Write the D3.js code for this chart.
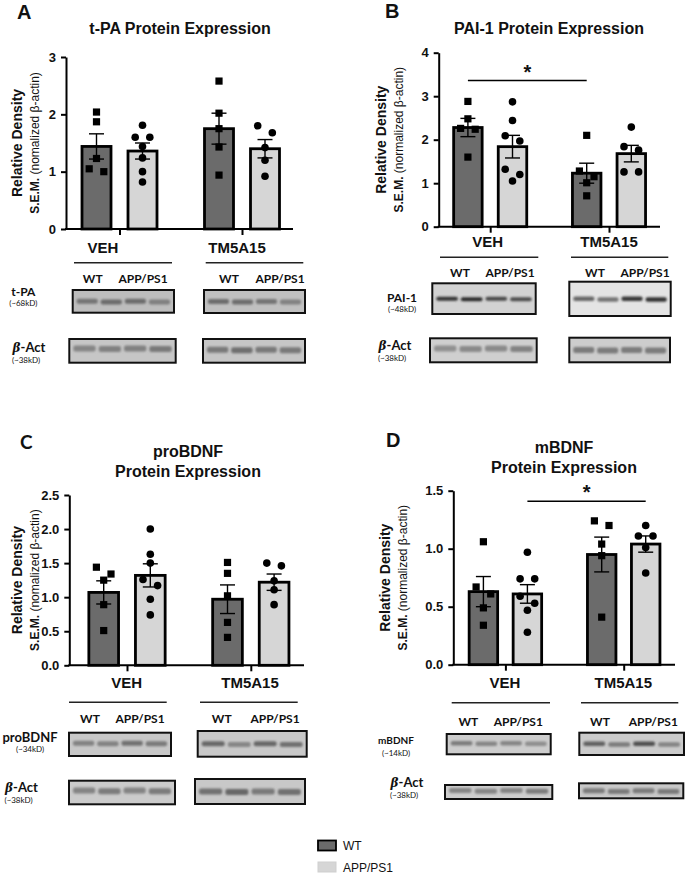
<!DOCTYPE html>
<html><head><meta charset="utf-8">
<script src="https://cdn.jsdelivr.net/npm/d3@7"></script>
<style>body{margin:0;background:#fff}svg{display:block}</style>
</head><body>
<script>
// ---------- DATA ----------
const groups = ["VEH", "TM5A15"];
const genotypes = ["WT", "APP/PS1"];
const legendLabels = ["WT", "APP/PS1"];

// A: t-PA
const tpaMeans = [1.44, 1.36, 1.75, 1.40];
const tpaSem = [0.22, 0.14, 0.27, 0.16];
const tpaVehWT = [2.04, 1.87, 1.23, 1.05, 1.00];
const tpaVehAPP = [1.81, 1.60, 1.60, 1.44, 1.24, 1.00, 0.82];
const tpaTmWT = [2.58, 2.02, 1.75, 1.43, 0.94];
const tpaTmAPP = [1.80, 1.68, 1.42, 1.20, 0.92];
const tpaTicks = [0, 1, 2, 3];

// B: PAI-1
const paiMeans = [2.28, 1.84, 1.23, 1.68];
const paiSem = [0.21, 0.26, 0.23, 0.19];
const paiVehWT = [2.88, 2.48, 2.26, 2.24, 1.60];
const paiVehAPP = [2.87, 2.44, 2.09, 1.97, 1.32, 1.20, 1.05];
const paiTmWT = [2.10, 1.28, 1.15, 1.01, 0.71];
const paiTmAPP = [2.29, 1.84, 1.76, 1.26, 1.26];
const paiTicks = [0, 1, 2, 3, 4];
const paiSigLevel = 3.36;

// C: proBDNF
const proMeans = [1.07, 1.32, 0.97, 1.22];
const proSem = [0.17, 0.17, 0.21, 0.12];
const proVehWT = [1.44, 1.34, 1.25, 0.89, 0.51];
const proVehAPP = [2.00, 1.63, 1.50, 1.26, 1.17, 0.97, 0.74];
const proTmWT = [1.51, 1.35, 1.02, 0.63, 0.41];
const proTmAPP = [1.50, 1.46, 1.24, 1.11, 0.89];
const proTicks = [0, 0.5, 1.0, 1.5, 2.0, 2.5];

// D: mBDNF
const mMeans = [0.63, 0.61, 0.95, 1.04];
const mSem = [0.13, 0.08, 0.15, 0.07];
const mVehWT = [1.06, 0.67, 0.61, 0.49, 0.34];
const mVehAPP = [0.97, 0.74, 0.74, 0.59, 0.53, 0.47, 0.28];
const mTmWT = [1.24, 1.20, 1.04, 0.94, 0.41];
const mTmAPP = [1.20, 1.11, 1.11, 1.01, 0.79];
const mTicks = [0, 0.5, 1.0, 1.5];
const mSigLevel = 1.41;

// Western blot band intensities (4 lanes each)
const tpaVehBand = [0.45, 0.5, 0.5, 0.38];
const tpaTmBand = [0.5, 0.5, 0.45, 0.38];
const actAVeh = [0.38, 0.4, 0.4, 0.45];
const actATm = [0.45, 0.5, 0.45, 0.45];
const paiVehBand = [0.85, 0.9, 0.75, 0.72];
const paiTmBand = [0.62, 0.55, 0.85, 0.88];
const actBVeh = [0.35, 0.38, 0.38, 0.42];
const actBTm = [0.45, 0.45, 0.45, 0.45];
const proVehBand = [0.4, 0.4, 0.5, 0.45];
const proTmBand = [0.55, 0.38, 0.55, 0.5];
const actCVeh = [0.4, 0.45, 0.4, 0.45];
const actCTm = [0.5, 0.55, 0.45, 0.5];
const mVehBand = [0.45, 0.4, 0.4, 0.35];
const mTmBand = [0.6, 0.45, 0.7, 0.4];
const actDVeh = [0.4, 0.4, 0.4, 0.45];
const actDTm = [0.45, 0.45, 0.45, 0.45];

// ---------- DRAWING ----------
const W = 685, H = 874;
const ARIAL = "'Liberation Sans', Arial, sans-serif";
const CAL = "Lato, 'Open Sans', sans-serif";
const WT_FILL = "#6b6b6b", APP_FILL = "#d6d6d6";

const svg = d3.select("body").append("svg").attr("width", W).attr("height", H);
const defs = svg.append("defs");
defs.append("filter").attr("id", "blur").attr("x", "-20%").attr("y", "-100%").attr("width", "140%").attr("height", "300%")
  .append("feGaussianBlur").attr("stdDeviation", 1.1);

function txt(g, x, y, s, size, weight, anchor, family, rot) {
  const t = g.append("text").attr("x", x).attr("y", y).text(s)
    .attr("font-size", size).attr("font-weight", weight || "bold")
    .attr("text-anchor", anchor || "middle").attr("font-family", family || ARIAL).attr("fill", "#111");
  if (rot) t.attr("transform", `rotate(-90,${x},${y})`);
  return t;
}

function jitter(values, y, step) {
  // points whose pixel positions are closer than 8 px share a row and spread sideways
  const sorted = values.slice().sort((a, b) => b - a);
  const rows = [];
  sorted.forEach(v => {
    const last = rows[rows.length - 1];
    if (last && Math.abs(y(last[0]) - y(v)) < 8) last.push(v); else rows.push([v]);
  });
  const out = [];
  rows.forEach(r => r.forEach((v, k) => out.push({ v, dx: r.length > 1 ? (k / (r.length - 1) * 2 - 1) * step : 0 })));
  return out;
}

function panel(c) {
  const g = svg.append("g");
  const y = d3.scaleLinear().domain([0, c.ticks[c.ticks.length - 1]]).range([c.zeroY, c.topY]);
  const xg = d3.scalePoint().domain(groups).range(c.centers);
  const xs = d3.scalePoint().domain(genotypes).range([-c.off, c.off]);
  const cells = [];
  groups.forEach((gr, gi) => genotypes.forEach((ge, ki) => {
    const idx = gi * 2 + ki;
    cells.push({ gr, ge, mean: c.means[idx], sem: c.sem[idx], pts: c.pts[idx], cx: xg(gr) + xs(ge) });
  }));
  // bars
  g.selectAll(".bar").data(cells).join("rect")
    .attr("x", d => d.cx - c.bw / 2).attr("y", d => y(d.mean))
    .attr("width", c.bw).attr("height", d => y(0) - y(d.mean))
    .attr("fill", d => d.ge === "WT" ? WT_FILL : APP_FILL)
    .attr("stroke", "#000").attr("stroke-width", 2.8);
  // error bars
  cells.forEach(d => {
    const e = g.append("g").attr("stroke", "#000").attr("stroke-width", 1.4);
    e.append("line").attr("x1", d.cx).attr("x2", d.cx).attr("y1", y(d.mean + d.sem)).attr("y2", y(d.mean - d.sem));
    [d.mean + d.sem, d.mean - d.sem].forEach(v => e.append("line")
      .attr("x1", d.cx - 7.5).attr("x2", d.cx + 7.5).attr("y1", y(v)).attr("y2", y(v)));
  });
  // points
  cells.forEach(d => {
    const pts = jitter(d.pts, y, 7.3);
    if (d.ge === "WT") {
      g.selectAll(null).data(pts).join("rect")
        .attr("x", p => d.cx + p.dx - 3.6).attr("y", p => y(p.v) - 3.6)
        .attr("width", 7.2).attr("height", 7.2).attr("fill", "#000");
    } else {
      g.selectAll(null).data(pts).join("circle")
        .attr("cx", p => d.cx + p.dx).attr("cy", p => y(p.v)).attr("r", 3.8).attr("fill", "#000");
    }
  });
  // y axis
  const ya = g.append("g").attr("transform", `translate(${c.axisX},0)`)
    .call(d3.axisLeft(y).tickValues(c.ticks).tickSize(5).tickSizeOuter(0).tickFormat(c.fmt));
  ya.select(".domain").attr("stroke-width", 2);
  ya.selectAll(".tick line").attr("stroke-width", 2);
  ya.selectAll("text").attr("font-size", 13).attr("font-weight", "bold").attr("font-family", ARIAL).attr("fill", "#111").attr("dx", "-2");
  // x axis
  g.append("line").attr("x1", c.axisX - 1).attr("x2", c.axisEnd).attr("y1", y(0)).attr("y2", y(0))
    .attr("stroke", "#000").attr("stroke-width", 2);
  const xa = g.append("g").attr("transform", `translate(0,${y(0)})`)
    .call(d3.axisBottom(xg).tickSize(6).tickFormat(""));
  xa.select(".domain").remove();
  xa.selectAll(".tick line").attr("stroke-width", 2);
  // significance
  if (c.sig) {
    const a = cells.find(d => d.gr === c.sig.from[0] && d.ge === c.sig.from[1]);
    const b = cells.find(d => d.gr === c.sig.to[0] && d.ge === c.sig.to[1]);
    g.append("line").attr("x1", a.cx).attr("x2", b.cx).attr("y1", y(c.sig.level)).attr("y2", y(c.sig.level))
      .attr("stroke", "#000").attr("stroke-width", 1.5);
    txt(g, (a.cx + b.cx) / 2, y(c.sig.level) - 2, "*", 20, "bold");
  }
  // titles
  c.title.forEach((s, i) => txt(g, c.titleX, c.titleY[i], s, 16, "bold"));
  txt(g, c.letter[1], c.letter[2], c.letter[0], c.letter[3] || 20, "bold", "start", c.letter[4] || ARIAL);
  // y labels
  const ym = (c.zeroY + c.topY) / 2 + c.ylabDy;
  txt(g, c.ylabX, ym, "Relative Density", 14, "bold", "middle", ARIAL, true);
  const t2 = g.append("text").attr("x", c.ylabX + 17).attr("y", ym).attr("text-anchor", "middle")
    .attr("font-family", ARIAL).attr("font-size", 12).attr("fill", "#111")
    .attr("transform", `rotate(-90,${c.ylabX + 17},${ym})`);
  t2.append("tspan").attr("font-weight", "bold").text("S.E.M. ");
  t2.append("tspan").text(c.norm);
  return g;
}

function blot(g, box, bands, bg, yFrac, bandH) {
  const [x0, y0, x1, y1] = box;
  const bx = g.append("g");
  bx.append("rect").attr("x", x0).attr("y", y0).attr("width", x1 - x0).attr("height", y1 - y0).attr("fill", bg);
  const lane = d3.scaleBand().domain(d3.range(bands.length)).range([x0 + 2, x1 - 2]).paddingInner(0.12).paddingOuter(0.08);
  const col = d3.interpolateRgb(bg, "#1a1a1a");
  bx.selectAll(null).data(bands).join("rect")
    .attr("x", (d, i) => lane(i)).attr("width", lane.bandwidth())
    .attr("y", (d, i) => y0 + (y1 - y0) * yFrac - bandH / 2 + (i % 2 ? 0.6 : 0))
    .attr("height", bandH).attr("rx", 2)
    .attr("fill", d => col(d)).attr("filter", "url(#blur)");
  bx.append("rect").attr("x", x0).attr("y", y0).attr("width", x1 - x0).attr("height", y1 - y0)
    .attr("fill", "none").attr("stroke", "#111").attr("stroke-width", 2);
}

function blotHeader(g, h) {
  txt(g, h.veh[0], h.veh[1], groups[0], 15, "bold");
  txt(g, h.tm[0], h.tm[1], groups[1], 15, "bold");
  h.lines.forEach(l => g.append("line").attr("x1", l[0]).attr("x2", l[1]).attr("y1", h.lineY).attr("y2", h.lineY)
    .attr("stroke", "#222").attr("stroke-width", 1.6));
  h.wt.forEach((x, i) => {
    txt(g, x, h.genoY, genotypes[0], 12, "bold", "middle", CAL);
    txt(g, h.app[i], h.genoY, genotypes[1], 12, "bold", "middle", CAL);
  });
}

function blotLabel(g, x, y, name, kd, size, kdDy) {
  txt(g, x, y, name, size, "bold", "middle", CAL);
  txt(g, x, y + kdDy, kd, 8, "normal", "middle", CAL);
}

function actLabel(g, x, y, kdDy) {
  const t = g.append("text").attr("x", x).attr("y", y).attr("text-anchor", "middle")
    .attr("font-family", CAL).attr("font-size", 13).attr("font-weight", "bold").attr("fill", "#111");
  t.append("tspan").attr("font-style", "italic").attr("font-family", "'DejaVu Serif', serif").attr("font-size", 12).text("β");
  t.append("tspan").text("-Act");
  txt(g, x - 3, y + kdDy, "(~38kD)", 8, "normal", "middle", CAL);
}

// ---- Panel A ----
const gA = panel({
  means: tpaMeans, sem: tpaSem, pts: [tpaVehWT, tpaVehAPP, tpaTmWT, tpaTmAPP],
  ticks: tpaTicks, fmt: d3.format("d"), zeroY: 229, topY: 57, axisX: 66, axisEnd: 293,
  centers: [119.5, 242], off: 23, bw: 29,
  title: ["t-PA Protein Expression"], titleX: 180, titleY: [34],
  letter: ["A", 17, 19], ylabX: 22, ylabDy: 0, norm: "(nomalized β-actin)"
});
blotHeader(gA, { veh: [103, 253], tm: [237, 253], lineY: 262.7, lines: [[74, 172], [205.7, 303.3]],
  genoY: 283, wt: [92.7, 229], app: [143, 280] });
blot(gA, [72.7, 290, 174, 312.7], tpaVehBand, "#bdbdbd", 0.5, 5);
blot(gA, [204, 290, 305, 313], tpaTmBand, "#c0c0c0", 0.5, 5);
blot(gA, [69.3, 339, 175.7, 362.7], actAVeh, "#c6c6c6", 0.4, 6);
blot(gA, [203, 339, 305, 362.7], actATm, "#c6c6c6", 0.45, 6);
blotLabel(gA, 23.3, 296, "t-PA", "(~68kD)", 12, 10);
actLabel(gA, 29, 352, 11);

// ---- Panel B ----
const gB = panel({
  means: paiMeans, sem: paiSem, pts: [paiVehWT, paiVehAPP, paiTmWT, paiTmAPP],
  ticks: paiTicks, fmt: d3.format("d"), zeroY: 226.7, topY: 52.7, axisX: 438.7, axisEnd: 660,
  centers: [490.2, 609], off: 22.3, bw: 28.5,
  title: ["PAI-1 Protein Expression"], titleX: 549, titleY: [34],
  letter: ["B", 385, 18], ylabX: 386, ylabDy: 0, norm: "(normalized β-actin)",
  sig: { from: ["VEH", "WT"], to: ["TM5A15", "WT"], level: paiSigLevel }
});
blotHeader(gB, { veh: [487.7, 247], tm: [609, 247], lineY: 257.3, lines: [[440, 538.3], [571, 668.3]],
  genoY: 277, wt: [460, 595], app: [510, 645] });
blot(gB, [432.3, 283.3, 535.7, 314], paiVehBand, "#d2d2d2", 0.5, 4);
blot(gB, [569.3, 281.7, 670.7, 316], paiTmBand, "#e4e4e4", 0.5, 4.5);
blot(gB, [430, 338.3, 536.7, 362.3], actBVeh, "#cfcfcf", 0.42, 6);
blot(gB, [569.3, 337.7, 670, 362.3], actBTm, "#cdcdcd", 0.5, 6);
blotLabel(gB, 402, 302, "PAI-1", "(~48kD)", 12, 10);
actLabel(gB, 395, 350, 11);

// ---- Panel C ----
const gC = panel({
  means: proMeans, sem: proSem, pts: [proVehWT, proVehAPP, proTmWT, proTmAPP],
  ticks: proTicks, fmt: d3.format(".1f"), zeroY: 665.3, topY: 495, axisX: 69.3, axisEnd: 304,
  centers: [127, 250.8], off: 23.3, bw: 29.7,
  title: ["proBDNF", "Protein Expression"], titleX: 188, titleY: [457, 477],
  letter: ["C", 20, 449, 19, CAL], ylabX: 22, ylabDy: 0, norm: "(nomalized β-actin)"
});
blotHeader(gC, { veh: [126.7, 688], tm: [250, 688], lineY: 702.3, lines: [[69, 166.7], [200, 297.7]],
  genoY: 723.3, wt: [90, 221.7], app: [140, 275] });
blot(gC, [69, 732.7, 171, 756], proVehBand, "#c8c8c8", 0.45, 5);
blot(gC, [197.7, 731, 306.7, 756.7], proTmBand, "#c8c8c8", 0.5, 5);
blot(gC, [69, 780.7, 175, 804.3], actCVeh, "#cbcbcb", 0.42, 6);
blot(gC, [195, 779, 305, 804], actCTm, "#c8c8c8", 0.5, 6);
blotLabel(gC, 30, 742, "proBDNF", "(~34kD)", 13, 10);
actLabel(gC, 21.5, 792, 11);

// ---- Panel D ----
const gD = panel({
  means: mMeans, sem: mSem, pts: [mVehWT, mVehAPP, mTmWT, mTmAPP],
  ticks: mTicks, fmt: d3.format(".1f"), zeroY: 664.7, topY: 490.7, axisX: 453.3, axisEnd: 675,
  centers: [505.4, 623.7], off: 22, bw: 28.5,
  title: ["mBDNF", "Protein Expression"], titleX: 564, titleY: [453, 473],
  letter: ["D", 386, 447], ylabX: 390, ylabDy: 0, norm: "(normalized β-actin)",
  sig: { from: ["VEH", "APP/PS1"], to: ["TM5A15", "APP/PS1"], level: mSigLevel }
});
blotHeader(gD, { veh: [505, 688], tm: [623.3, 688], lineY: 702.7, lines: [[451.7, 550], [581, 678.3]],
  genoY: 725.7, wt: [468.3, 600], app: [518.3, 653.3] });
blot(gD, [446.7, 734, 550.7, 754.3], mVehBand, "#cdcdcd", 0.45, 4.5);
blot(gD, [579.3, 732.7, 684, 755], mTmBand, "#cbcbcb", 0.5, 4.5);
blot(gD, [445, 785, 552.3, 799], actDVeh, "#cdcdcd", 0.4, 5);
blot(gD, [579, 783.3, 683.3, 798.3], actDTm, "#c8c8c8", 0.5, 5);
blotLabel(gD, 396, 744, "mBDNF", "(~14kD)", 10, 12);
actLabel(gD, 407, 787, 11);

// ---- Legend ----
const lg = svg.append("g");
legendLabels.forEach((s, i) => {
  const yy = 840.5 + i * 21.5;
  lg.append("rect").attr("x", 318).attr("y", yy).attr("width", 18).attr("height", 10)
    .attr("fill", i === 0 ? WT_FILL : APP_FILL).attr("stroke", i === 0 ? "#000" : "#cfcfcf").attr("stroke-width", i === 0 ? 1.8 : 1);
  txt(lg, 343, yy + 9.5, s, 12, "normal", "start");
});
</script>
</body></html>
